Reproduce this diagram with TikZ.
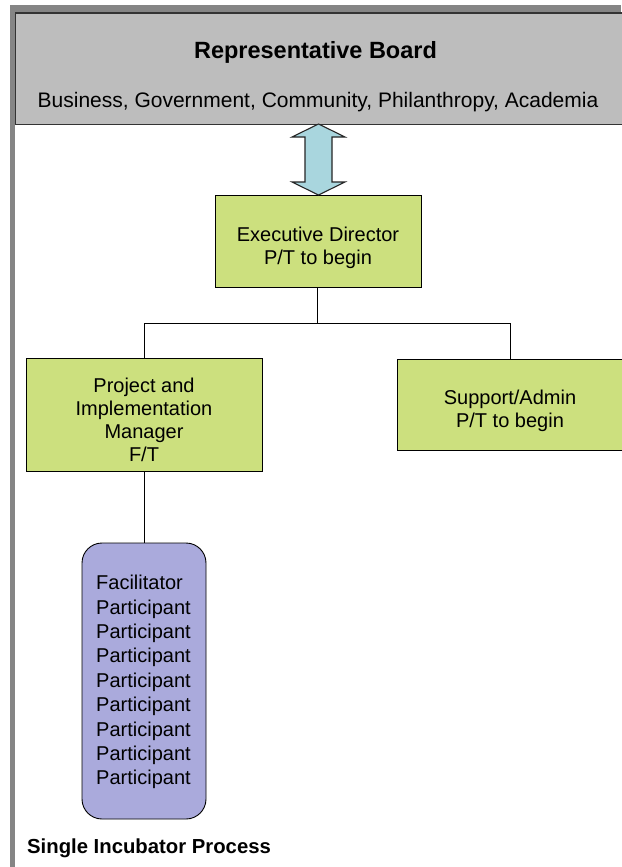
\documentclass[tikz,border=0pt]{standalone}
\usepackage{fontspec}
\setmainfont{Liberation Sans}
\definecolor{boardgray}{HTML}{BDBDBD}
\definecolor{framegray}{HTML}{858585}
\definecolor{boxgreen}{HTML}{CCE07E}
\definecolor{lav}{HTML}{AAAADC}
\definecolor{arrowblue}{HTML}{A9D6DE}
\begin{document}
\begin{tikzpicture}[x=1pt,y=-1pt,
  txt/.style={font=\fontsize{20}{23}\selectfont, align=center, inner sep=0pt},
  greenbox/.style={draw=black, line width=0.9pt, fill=boxgreen, inner sep=0pt},
  conn/.style={draw=black, line width=0.9pt}]
\useasboundingbox (0,0) rectangle (621,867);
\fill[white] (0,0) rectangle (621,867);
% frame
\fill[framegray] (10,5) rectangle (621,12);
\fill[framegray] (10,5) rectangle (15,867);
% board
\node[draw=black!80, line width=1.2pt, fill=boardgray, minimum width=620pt, minimum height=111pt, anchor=north west, inner sep=0pt] (board) at (15,12.5) {};
\node[font=\bfseries\fontsize{23.5}{26}\selectfont, inner sep=0pt] (title) at (315.5,52) {Representative Board};
\node[font=\fontsize{21}{24}\selectfont, inner sep=0pt] (sub) at (318,102) {Business, Government, Community, Philanthropy, Academia};
% executive director
\node[greenbox, minimum width=206pt, minimum height=92pt] (ed) at (318,241) {};
\node[txt] (edt) at (318,247.5) {Executive Director\\P/T to begin};
% double arrow
\filldraw[fill=arrowblue, draw=black!85, line width=1.1pt]
  (318.5,124) -- (345,137) -- (332,137) -- (332,182) -- (345,182) -- (318.5,195)
  -- (292,182) -- (305,182) -- (305,137) -- (292,137) -- cycle;
% PIM
\node[greenbox, minimum width=236pt, minimum height=113pt] (pim) at (144,414.5) {};
\node[txt] (pimt) at (144,420) {Project and\\Implementation\\Manager\\F/T};
% support
\node[greenbox, minimum width=226pt, minimum height=91pt] (sup) at (510,404.5) {};
\node[txt] (supt) at (510,411) {Support/Admin\\P/T to begin};
% connectors
\coordinate (j) at (317,323);
\draw[conn] (ed.south -| j) -- (j);
\draw[conn] (pim.north |- j) -- (sup.north |- j);
\draw[conn] (pim.north |- j) -- (pim.north);
\draw[conn] (sup.north |- j) -- (sup.north);
% incubator
\node[draw=black, line width=0.9pt, fill=lav, rounded corners=20pt, minimum width=124pt, minimum height=276pt, inner sep=0pt] (inc) at (144,681) {};
\node[font=\fontsize{20}{24.4}\selectfont, align=left, inner sep=0pt, anchor=north west] (inct) at (96,575) {Facilitator\\Participant\\Participant\\Participant\\Participant\\Participant\\Participant\\Participant\\Participant};
\draw[conn] (pim.south) -- (inc.north);
\node[font=\bfseries\fontsize{20.3}{23}\selectfont, anchor=west, inner sep=0pt] (cap) at (27,848) {Single Incubator Process};
\end{tikzpicture}
\end{document}
